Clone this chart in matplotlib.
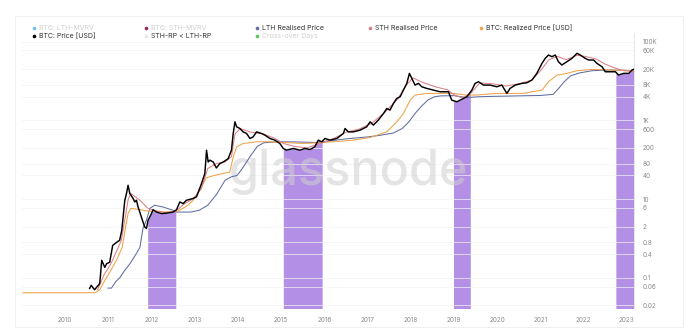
import numpy as np
import matplotlib
matplotlib.use("Agg")
import matplotlib.pyplot as plt
from matplotlib.lines import Line2D
from matplotlib.patches import Rectangle

plt.rcParams['font.family'] = ['Inter', 'DejaVu Sans']

# ---------------- data (decimal year, USD) ----------------
price_t = [2010.566, 2010.60, 2010.68, 2010.80, 2010.846, 2010.916, 2010.96, 2011.03, 2011.10, 2011.19,
           2011.26, 2011.31, 2011.38, 2011.42, 2011.456, 2011.495, 2011.572, 2011.611, 2011.650, 2011.688,
           2011.727, 2011.803, 2011.843, 2011.882, 2011.919, 2011.998, 2012.035, 2012.114, 2012.23, 2012.346,
           2012.499, 2012.578, 2012.654, 2012.731, 2012.81, 2012.962, 2013.04, 2013.157, 2013.234, 2013.273,
           2013.31, 2013.35, 2013.426, 2013.50, 2013.58, 2013.66, 2013.774, 2013.85, 2013.89, 2013.93,
           2013.97, 2014.045, 2014.12, 2014.20, 2014.277, 2014.353, 2014.43, 2014.548, 2014.624, 2014.74,
           2014.856, 2014.97, 2015.05, 2015.127, 2015.28, 2015.436, 2015.55, 2015.668, 2015.78, 2015.86,
           2015.94, 2016.015, 2016.13, 2016.29, 2016.44, 2016.48, 2016.555, 2016.67, 2016.827, 2016.98,
           2017.06, 2017.135, 2017.25, 2017.37, 2017.445, 2017.52, 2017.60, 2017.677, 2017.755, 2017.83,
           2017.91, 2017.97, 2018.025, 2018.10, 2018.18, 2018.257, 2018.37, 2018.526, 2018.68, 2018.874,
           2018.95, 2019.07, 2019.145, 2019.30, 2019.416, 2019.49, 2019.57, 2019.685, 2019.84, 2019.995,
           2020.11, 2020.227, 2020.30, 2020.42, 2020.575, 2020.69, 2020.807, 2020.92, 2021.04, 2021.115,
           2021.19, 2021.27, 2021.347, 2021.42, 2021.50, 2021.617, 2021.734, 2021.85, 2021.926, 2022.04,
           2022.12, 2022.234, 2022.31, 2022.43, 2022.506, 2022.62, 2022.74, 2022.815, 2022.93, 2023.05,
           2023.125, 2023.16]
price_v = [0.054, 0.065, 0.050, 0.072, 0.28, 0.185, 0.23, 0.25, 0.67, 0.80,
           0.90, 1.6, 9.3, 14, 22.5, 14.1, 10.4, 8.5, 9.4, 6.3,
           4.7, 2.6, 1.96, 1.8, 2.9, 4.3, 5.4, 4.7, 4.3, 4.4,
           4.7, 5.4, 8.5, 7.7, 9.4, 10.4, 11.4, 25, 45, 175,
           88, 98, 88, 62, 80, 88, 107, 175, 465, 920,
           686, 623, 512, 465, 348, 382, 512, 465, 422, 348,
           315, 259, 194, 175, 194, 175, 194, 182, 214, 315,
           286, 348, 315, 348, 465, 623, 512, 512, 565, 686,
           920, 760, 1016, 1500, 2010, 1825, 2700, 3620, 3980, 5890,
           8710, 15650, 11700, 7890, 8710, 7150, 6500, 5890, 5340, 5340,
           3280, 2970, 3280, 3980, 5890, 8710, 9600, 7890, 7890, 7150,
           7890, 4850, 6500, 7890, 8710, 9040, 10600, 15650, 28200, 37700,
           45800, 41500, 45800, 30900, 25500, 30900, 37700, 50600, 45800, 37700,
           34200, 34200, 28200, 23100, 17200, 17200, 17200, 14200, 15650, 15650,
           19100, 19800]

realized_t = [2009.02, 2010.70, 2010.80, 2010.90, 2011.05, 2011.20, 2011.32, 2011.40, 2011.46, 2011.52,
              2011.70, 2011.90, 2012.30, 2012.60, 2012.80, 2012.95, 2013.15, 2013.27, 2013.45, 2013.66,
              2013.81, 2013.89, 2013.97, 2014.12, 2014.43, 2014.74, 2015.05, 2015.50, 2015.90, 2016.67,
              2017.06, 2017.445, 2017.68, 2017.83, 2017.99, 2018.10, 2018.37, 2018.98, 2019.30, 2019.50,
              2020.00, 2020.60, 2021.04, 2021.19, 2021.39, 2021.62, 2021.85, 2022.23, 2022.62, 2023.16]
realized_v = [0.042, 0.042, 0.050, 0.08, 0.15, 0.3, 0.6, 2.0, 4.5, 5.8,
              5.5, 5.0, 4.7, 4.9, 6.5, 9.0, 20, 35, 40, 45,
              49, 117, 214, 259, 286, 286, 275, 260, 270, 315,
              368, 512, 920, 1500, 3280, 4400, 4850, 4850, 4400, 4400,
              4850, 4850, 5890, 9600, 14200, 15650, 18300, 19800, 19100, 18300]

lth_t = [2010.99, 2011.07, 2011.17, 2011.26, 2011.37, 2011.50, 2011.65, 2011.73, 2011.80, 2011.88,
         2011.96, 2012.07, 2012.27, 2012.50, 2012.58, 2012.90, 2013.10, 2013.30, 2013.50, 2013.70,
         2013.85, 2013.98, 2014.10, 2014.30, 2014.45, 2014.60, 2014.90, 2015.30, 2015.80, 2016.10,
         2016.50, 2017.00, 2017.30, 2017.60, 2017.80, 2017.95, 2018.10, 2018.25, 2018.40, 2018.55,
         2018.70, 2019.00, 2019.30, 2019.60, 2020.00, 2020.50, 2021.00, 2021.30, 2021.45, 2021.55,
         2021.70, 2021.90, 2022.20, 2022.60, 2023.16]
lth_v = [0.055, 0.055, 0.08, 0.10, 0.15, 0.23, 0.42, 0.60, 1.8, 2.9,
         5.8, 7.0, 6.3, 5.2, 4.7, 4.7, 5.2, 7.0, 13, 30,
         37, 40, 60, 130, 220, 270, 285, 285, 275, 300,
         340, 380, 420, 480, 620, 900, 1500, 2300, 3300, 4000,
         4200, 4250, 3800, 4000, 4100, 4200, 4300, 4600, 7000, 9500,
         13500, 16000, 18300, 19100, 18500]

sth_t = [2010.75, 2010.90, 2011.05, 2011.20, 2011.30, 2011.38, 2011.46, 2011.52, 2011.60, 2011.75,
         2011.90, 2012.05, 2012.30, 2012.55, 2012.75, 2012.95, 2013.15, 2013.30, 2013.50, 2013.70,
         2013.85, 2013.93, 2014.05, 2014.30, 2014.60, 2014.85, 2015.05, 2015.30, 2015.60, 2015.90,
         2016.20, 2016.50, 2016.80, 2017.10, 2017.40, 2017.70, 2017.90, 2018.05, 2018.30, 2018.60,
         2018.85, 2019.00, 2019.20, 2019.40, 2019.60, 2019.90, 2020.20, 2020.50, 2020.80, 2021.00,
         2021.20, 2021.40, 2021.60, 2021.85, 2022.05, 2022.30, 2022.50, 2022.70, 2022.90, 2023.16]
sth_v = [0.05, 0.12, 0.22, 0.5, 0.9, 3, 10, 14, 12, 9,
         6, 5.2, 4.6, 4.8, 7.5, 10, 18, 60, 80, 88,
         120, 450, 620, 500, 450, 350, 260, 220, 200, 260,
         340, 500, 600, 850, 1600, 3500, 8000, 12000, 9000, 7000,
         6000, 4500, 3700, 5000, 9000, 8500, 7500, 8500, 10500, 18000,
         35000, 42000, 35000, 45000, 42000, 36000, 27000, 22000, 18500, 17500]

# periods where STH-RP < LTH-RP
cross_start = [2011.91, 2015.05, 2018.99, 2022.75]
cross_end = [2012.56, 2015.95, 2019.38, 2023.16]

year_ticks = list(range(2010, 2024))
y_ticks = [0.02, 0.06, 0.1, 0.4, 0.8, 2, 6, 10, 40, 80, 200, 600, 1000, 4000, 8000, 20000, 60000, 100000]
y_labels = ['0.02', '0.06', '0.1', '0.4', '0.8', '2', '6', '10', '40', '80', '200', '600',
            '1K', '4K', '8K', '20K', '60K', '100K']

legend_items = [
    ("BTC: LTH-MVRV", '#6ec3ee', True), ("BTC: STH-MVRV", '#a0245c', True),
    ("LTH Realised Price", '#5e6da3', False), ("STH Realised Price", '#e07f86', False),
    ("BTC: Realized Price [USD]", '#eea347', False),
    ("BTC: Price [USD]", '#000000', False), ("STH-RP < LTH-RP", '#e6e6e6', False),
    ("Cross-over Days", '#5cc45c', True),
]

# ---------------- figure ----------------
W, H = 700, 333
fig = plt.figure(figsize=(7, 3.33), dpi=100)
fig.patch.set_facecolor('white')

L, R, T, B = 22, 634, 33, 308.5
ax = fig.add_axes([L / W, 1 - B / H, (R - L) / W, (B - T) / H])
ax.set_yscale('log')
ax.set_xlim(2009.0, 2023.17)
ax.set_ylim(0.0167, 166000)

# purple areas
ymin = 0.0167
pt = np.array(price_t)
pl = np.log10(price_v)
for s, e in zip(cross_start, cross_end):
    inside = (pt > s) & (pt < e)
    xs = np.concatenate([[s], pt[inside], [e]])
    ys = 10 ** np.concatenate([[np.interp(s, pt, pl)], pl[inside], [np.interp(e, pt, pl)]])
    ax.fill_between(xs, ymin, ys, color='#b48fe6', lw=0, zorder=1)

ax.text(2016.55, 50, 'glassnode', fontsize=35, color='#cfcfcf', alpha=0.55,
        ha='center', va='center', fontweight='medium', zorder=2)

ax.plot(lth_t, lth_v, color='#5e6da3', lw=0.75, zorder=3)
ax.plot(realized_t, realized_v, color='#eea347', lw=0.75, zorder=3)
ax.plot(sth_t, sth_v, color='#e07f86', lw=0.75, zorder=3)
ax.plot(price_t, price_v, color='#000000', lw=1.05, zorder=4)

ax.yaxis.tick_right()
ax.set_yticks(y_ticks)
ax.set_yticklabels(y_labels)
ax.yaxis.set_minor_locator(matplotlib.ticker.NullLocator())
ax.set_xticks(year_ticks)
ax.set_xticklabels([str(y) for y in year_ticks])
ax.tick_params(axis='both', length=0, labelsize=4.6, labelcolor='#8a8a8a')
ax.tick_params(axis='y', pad=6)
ax.tick_params(axis='x', pad=6)
for lab in ax.get_yticklabels():
    lab.set_horizontalalignment('left')
ax.grid(axis='y', color='#f3f3f3', lw=0.5, zorder=0)
for sp in ['top', 'left', 'bottom']:
    ax.spines[sp].set_visible(False)
ax.spines['right'].set_color('#e2e2e2')
ax.spines['right'].set_linewidth(0.6)

# outer frame
fig.add_artist(Rectangle((15 / W, 1 - 327 / H), (683 - 15) / W, (327 - 16) / H,
                         transform=fig.transFigure, fill=False, edgecolor='#ececec', lw=0.6))

# legend
cols_dot = [33.5, 146.3, 257.4, 369.8, 481.3]
cols_txt = [39, 151, 262.5, 375, 486]
rows = [27.5, 36.3]
positions = [(0, 0), (0, 1), (0, 2), (0, 3), (0, 4), (1, 0), (1, 1), (1, 2)]
for (label, col, faded), (r, c) in zip(legend_items, positions):
    yf = 1 - rows[r] / H
    fig.add_artist(Line2D([cols_dot[c] / W], [yf], marker='o', markersize=2.6, color=col,
                          markeredgewidth=0, transform=fig.transFigure))
    fig.text(cols_txt[c] / W, yf, label, fontsize=5, color='#d0d0d0' if faded else '#333333',
             va='center', ha='left')

fig.savefig('out.png', dpi=100)
